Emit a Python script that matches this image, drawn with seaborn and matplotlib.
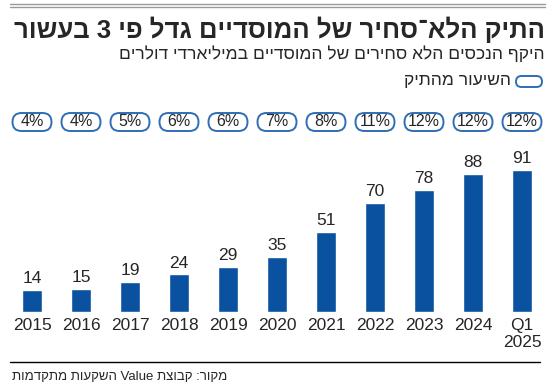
import matplotlib
matplotlib.use("Agg")
import matplotlib.pyplot as plt
import matplotlib.transforms as mtransforms
from matplotlib.patches import FancyBboxPatch
from matplotlib import font_manager
import seaborn as sns
import pandas as pd
import re

# --- data ---
years = ["2015", "2016", "2017", "2018", "2019", "2020", "2021", "2022", "2023", "2024", "Q1\n2025"]
assets = [14, 15, 19, 24, 29, 35, 51, 70, 78, 88, 91]
share = ["4%", "4%", "5%", "6%", "6%", "7%", "8%", "11%", "12%", "12%", "12%"]

title = "התיק הלא־סחיר של המוסדיים גדל פי 3 בעשור"
subtitle = "היקף הנכסים הלא סחירים של המוסדיים במיליארדי דולרים"
legend_label = "השיעור מהתיק"
source = "מקור: קבוצת Value השקעות מתקדמות"

BLUE = "#0a529f"
EDGE = "#2f6db5"


def visual(s):
    # matplotlib has no bidi, so flip Hebrew and keep latin/digit runs LTR
    r = s[::-1]
    return re.sub(r"[A-Za-z0-9%.]+", lambda m: m.group(0)[::-1], r)


sns.set_style("white")
names = {f.name for f in font_manager.fontManager.ttflist}
main_font = "Liberation Sans Narrow" if "Liberation Sans Narrow" in names else "Liberation Sans"
plt.rcParams["font.family"] = [main_font, "DejaVu Sans"]

df = pd.DataFrame({"year": years, "assets": assets})

fig = plt.figure(figsize=(5.5, 3.89), dpi=100)
ax = fig.add_axes([7.5 / 550, 77 / 389, 539 / 550, 172 / 389])
sns.barplot(data=df, x="year", y="assets", color=BLUE, width=0.42, saturation=1, ax=ax)
ax.set_xlim(-0.5, len(years) - 0.5)
ax.set_ylim(0, 110)
ax.set_xlabel("")
ax.set_ylabel("")
ax.set_yticks([])
sns.despine(ax=ax, left=True, top=True, right=True, bottom=True)
ax.tick_params(axis="x", length=0, pad=4, labelsize=12.5)

# value labels on top of bars
for i, v in enumerate(assets):
    ax.text(i, v + 2.5, str(v), ha="center", va="bottom", fontsize=12.5)

# share pills: rounded outline sized in inches, anchored at each category
blend = mtransforms.blended_transform_factory(ax.transData, fig.transFigure)
pill_y = 1 - 122 / 389
for i, s in enumerate(share):
    anchor = fig.dpi_scale_trans + mtransforms.ScaledTranslation(i, pill_y, blend)
    ax.add_patch(FancyBboxPatch((-0.195, -0.09), 0.39, 0.18,
                                boxstyle="round,pad=0,rounding_size=0.09",
                                transform=anchor, fc="white", ec=EDGE, lw=1.4, clip_on=False))
    ax.text(i, pill_y, s, transform=blend, ha="center", va="center", fontsize=11.5, zorder=5)

# header
fig.add_artist(plt.Line2D([10 / 550, 545 / 550], [1 - 4 / 389] * 2, color="#999999", lw=1))
fig.add_artist(plt.Line2D([10 / 550, 545 / 550], [1 - 7 / 389] * 2, color="#999999", lw=1))
fig.text(545 / 550, 1 - 30 / 389, visual(title), ha="right", va="center", fontsize=18.5,
         fontweight="bold")
fig.text(545 / 550, 1 - 54 / 389, visual(subtitle), ha="right", va="center", fontsize=12.5)
fig.text(511 / 550, 1 - 80 / 389, visual(legend_label), ha="right", va="center", fontsize=12.5)
legend_anchor = fig.dpi_scale_trans + mtransforms.ScaledTranslation(529 / 550, 1 - 81.5 / 389,
                                                                    fig.transFigure)
ax.add_patch(FancyBboxPatch((-0.13, -0.055), 0.26, 0.11,
                            boxstyle="round,pad=0,rounding_size=0.055",
                            transform=legend_anchor, fc="white", ec=EDGE, lw=1.4, clip_on=False))

# footer
fig.add_artist(plt.Line2D([10 / 550, 540 / 550], [1 - 362 / 389] * 2, color="black", lw=1))
fig.text(12 / 550, 1 - 377 / 389, visual(source), ha="left", va="center", fontsize=9.5)

plt.savefig("out.png", dpi=100)
